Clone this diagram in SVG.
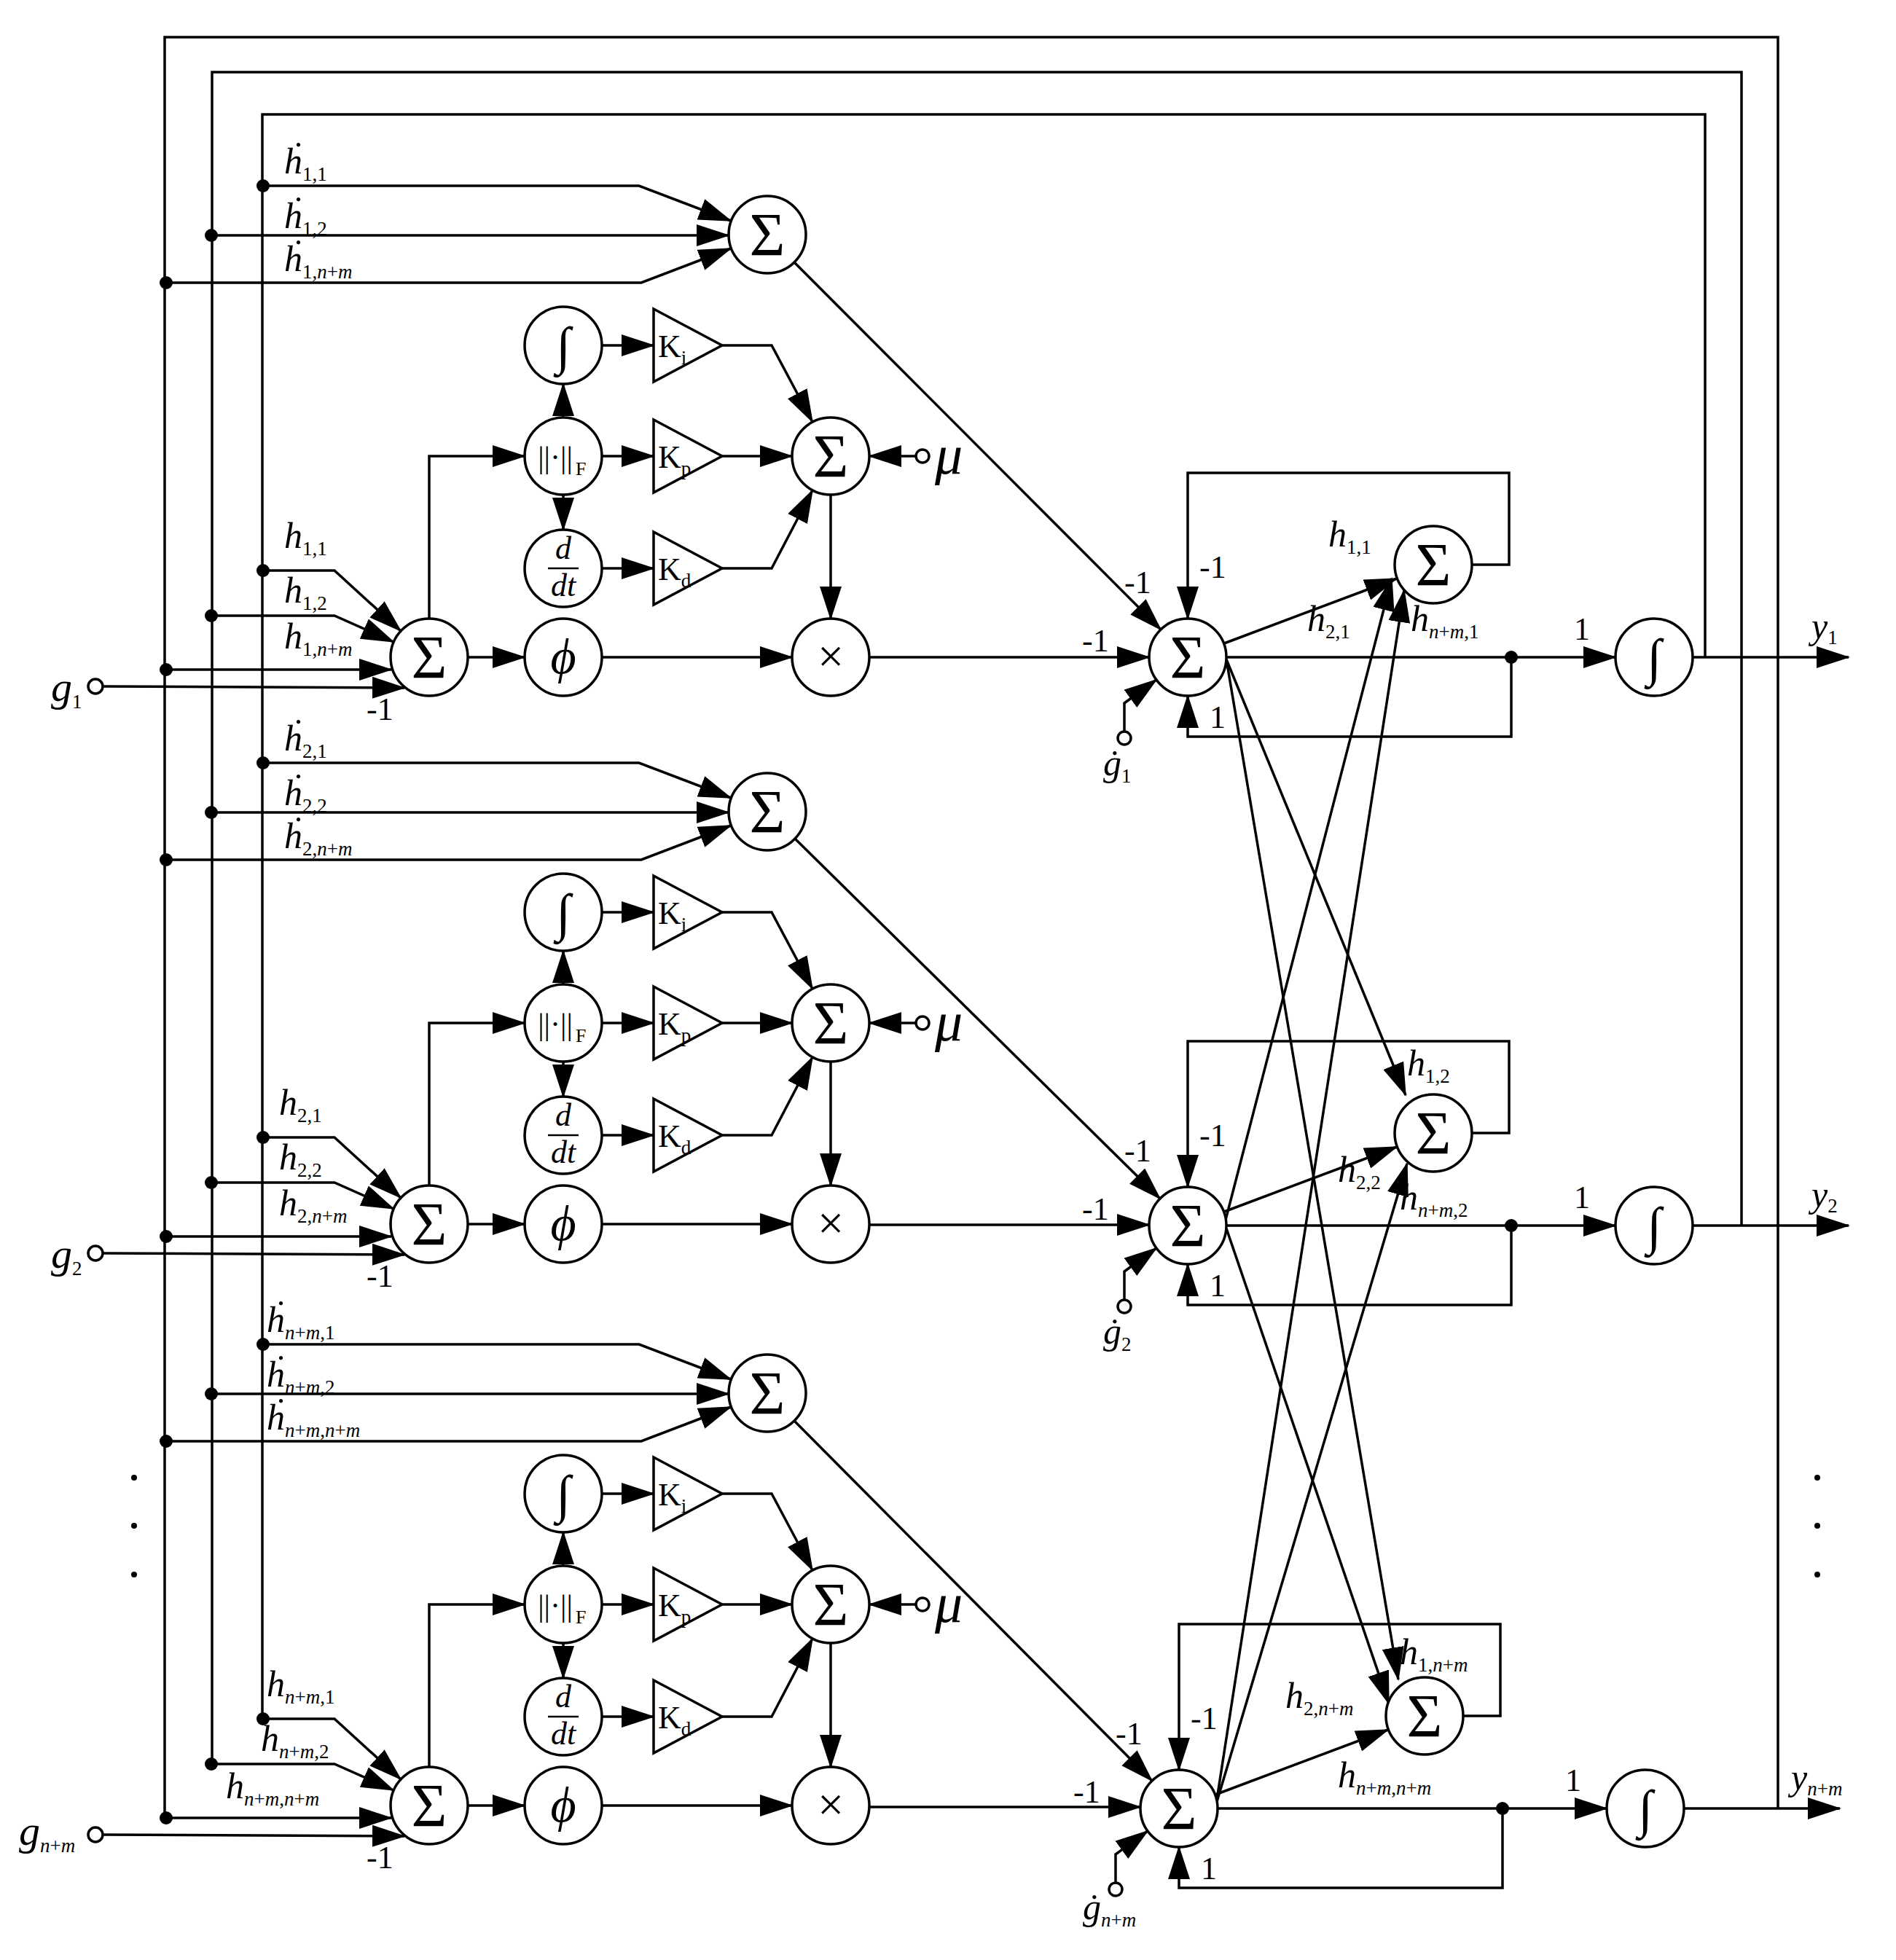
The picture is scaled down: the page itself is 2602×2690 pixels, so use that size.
<svg xmlns="http://www.w3.org/2000/svg" xmlns:xlink="http://www.w3.org/1999/xlink" width="2602" height="2690" viewBox="0 0 2602 2690">
<style>
text{font-family:"Liberation Serif","Times New Roman",serif;fill:#000}
.v{font-size:50px;font-style:italic}
.sb{font-size:27px;font-style:normal}
.i{font-style:italic}
.n{font-size:44px}
.sg{font-size:84px;text-anchor:middle}
.w{fill:none;stroke:#000;stroke-width:3.5}
.a{marker-end:url(#ar)}
.nd{fill:#fff;stroke:#000;stroke-width:3.5}
.dt{fill:#000}
</style>
<defs>
<marker id="ar" markerUnits="userSpaceOnUse" markerWidth="46" markerHeight="30" refX="44" refY="15" orient="auto"><path d="M0,0 L46,15 L0,30z"/></marker>
<g id="topT">
<path class="w a" d="M361,255 H877 L1003,303"/>
<path class="w a" d="M290,323 H1000"/>
<path class="w a" d="M228,388 H880 L1003,341"/>
<circle class="dt" cx="361" cy="255" r="9"/><circle class="dt" cx="290" cy="323" r="9"/><circle class="dt" cx="228" cy="388" r="9"/>
<circle class="nd" cx="1053" cy="322" r="53"/><text class="sg" x="1053" y="351">Σ</text>
</g>
<g id="pidT">
<path class="w a" d="M826,474 H897"/><path class="w a" d="M826,626 H897"/><path class="w a" d="M826,780 H897"/>
<path class="w a" d="M773,573 V527"/><path class="w a" d="M773,679 V727"/>
<path class="w a" d="M991,474 H1059 L1115,579"/><path class="w a" d="M991,780 H1059 L1115,673"/>
<path class="w a" d="M991,626 H1087"/><path class="w a" d="M1257,626 H1193"/>
<path class="w a" d="M1140,679 V849"/><path class="w a" d="M589,849 V626 H720"/>
<path class="w a" d="M642,902 H720"/><path class="w a" d="M826,902 H1087"/>
<path class="w a" d="M361,783 H459 L550,866"/><path class="w a" d="M290,845 H459 L540,881"/>
<path class="w a" d="M228,919 H537"/><path class="w a" d="M141,942 L555,944"/>
<circle class="dt" cx="361" cy="783" r="9"/><circle class="dt" cx="290" cy="845" r="9"/><circle class="dt" cx="228" cy="919" r="9"/>
<circle class="nd" cx="131" cy="942" r="10"/>
<circle class="nd" cx="773" cy="474" r="53"/><text x="773" y="499" style="font-size:72px;font-style:italic;text-anchor:middle">∫</text>
<circle class="nd" cx="773" cy="626" r="53"/><text x="762" y="642" style="font-size:42px;text-anchor:middle">||·||</text><text x="790" y="652" style="font-size:26px">F</text>
<circle class="nd" cx="773" cy="780" r="53"/><text x="773" y="767" style="font-size:44px;font-style:italic;text-anchor:middle">d</text><path class="w" d="M752,780 H794" style="stroke-width:2.5"/><text x="773" y="818" style="font-size:44px;font-style:italic;text-anchor:middle">dt</text>
<path class="nd" d="M897,424 L991,474 L897,524z"/><text class="n" x="903" y="490">K<tspan style="font-size:27px" dy="10">i</tspan></text>
<path class="nd" d="M897,576 L991,626 L897,676z"/><text class="n" x="903" y="642">K<tspan style="font-size:27px" dy="10">p</tspan></text>
<path class="nd" d="M897,730 L991,780 L897,830z"/><text class="n" x="903" y="796">K<tspan style="font-size:27px" dy="10">d</tspan></text>
<circle class="nd" cx="1140" cy="626" r="53"/><text class="sg" x="1140" y="655">Σ</text>
<circle class="nd" cx="1266" cy="626" r="9"/><text x="1283" y="650" style="font-size:76px;font-style:italic">μ</text>
<circle class="nd" cx="1140" cy="902" r="53"/><text x="1140" y="922" style="font-size:64px;text-anchor:middle">×</text>
<circle class="nd" cx="773" cy="902" r="53"/><text x="773" y="924" style="font-size:68px;font-style:italic;text-anchor:middle">ϕ</text>
<circle class="nd" cx="589" cy="902" r="53"/><text class="sg" x="589" y="931">Σ</text>
<text class="n" x="503" y="988">-1</text>
</g>
<g id="rightT">
<path class="w a" d="M2020,775 H2071 V649 H1630 V849"/>
<path class="w a" d="M1680,883 L1917,794"/>
<path class="w a" d="M1683,902 H2217"/>
<path class="w a" d="M2074,902 V1011 H1630 V955"/>
<path class="w a" d="M1543,1004 V965 L1587,933"/>
<path class="w a" d="M2323,902 H2537"/>
<circle class="dt" cx="2074" cy="902" r="9"/>
<circle class="nd" cx="1543" cy="1013" r="9"/>
<circle class="nd" cx="1630" cy="902" r="53"/><text class="sg" x="1630" y="931">Σ</text>
<circle class="nd" cx="1967" cy="775" r="53"/><text class="sg" x="1967" y="804">Σ</text>
<circle class="nd" cx="2270" cy="902" r="53"/><text x="2270" y="927" style="font-size:72px;font-style:italic;text-anchor:middle">∫</text>
<text class="n" x="1646" y="793">-1</text><text class="n" x="1543" y="814">-1</text><text class="n" x="1485" y="894">-1</text>
<text class="n" x="1660" y="999">1</text><text class="n" x="2160" y="878">1</text>
</g>
</defs>
<g id="connectors">
<path class="w" d="M226,2492 V51 H2440 V2482"/>
<path class="w" d="M291,2418 V99 H2390 V1682"/>
<path class="w" d="M360,2357 V157 H2340 V902"/>
<path class="w a" d="M1090,360 L1593,864"/>
<path class="w a" d="M1091,1151 L1592,1645"/>
<path class="w a" d="M1090,1950 L1581,2444"/>
<path class="w a" d="M1193,902 H1577"/>
<path class="w a" d="M1193,1681 H1577"/>
<path class="w a" d="M1193,2480 H1565"/>
<path class="w a" d="M1683,905 L1929,1503"/>
<path class="w a" d="M1683,905 L1919,2305"/>
<path class="w a" d="M1681,1678 L1910,794"/>
<path class="w a" d="M1683,1686 L1906,2338"/>
<path class="w a" d="M1669,2476 L1927,810"/>
<path class="w a" d="M1669,2476 L1931,1597"/>
</g>
<g id="block1"><use xlink:href="#rightT"/><use xlink:href="#topT"/><use xlink:href="#pidT"/></g>
<g id="block2"><use xlink:href="#rightT" transform="translate(0,780)"/><use xlink:href="#topT" transform="translate(0,792)"/><use xlink:href="#pidT" transform="translate(0,778)"/></g>
<g id="block3"><use xlink:href="#rightT" transform="translate(-12,1580)"/><use xlink:href="#topT" transform="translate(0,1590)"/><use xlink:href="#pidT" transform="translate(0,1576)"/></g>
<g id="labels">
<text class="v" x="390" y="238">ḣ<tspan class="sb" dy="10">1,1</tspan></text>
<text class="v" x="390" y="313">ḣ<tspan class="sb" dy="10">1,2</tspan></text>
<text class="v" x="390" y="372">ḣ<tspan class="sb" dy="10">1,<tspan class="i">n</tspan>+<tspan class="i">m</tspan></tspan></text>
<text class="v" x="390" y="752">h<tspan class="sb" dy="10">1,1</tspan></text>
<text class="v" x="390" y="827">h<tspan class="sb" dy="10">1,2</tspan></text>
<text class="v" x="390" y="890">h<tspan class="sb" dy="10">1,<tspan class="i">n</tspan>+<tspan class="i">m</tspan></tspan></text>
<text class="v" x="70" y="962" style="font-size:58px">g<tspan class="sb" dy="10">1</tspan></text>
<text class="v" x="390" y="1030">ḣ<tspan class="sb" dy="10">2,1</tspan></text>
<text class="v" x="390" y="1105">ḣ<tspan class="sb" dy="10">2,2</tspan></text>
<text class="v" x="390" y="1164">ḣ<tspan class="sb" dy="10">2,<tspan class="i">n</tspan>+<tspan class="i">m</tspan></tspan></text>
<text class="v" x="383" y="1530">h<tspan class="sb" dy="10">2,1</tspan></text>
<text class="v" x="383" y="1605">h<tspan class="sb" dy="10">2,2</tspan></text>
<text class="v" x="383" y="1668">h<tspan class="sb" dy="10">2,<tspan class="i">n</tspan>+<tspan class="i">m</tspan></tspan></text>
<text class="v" x="70" y="1740" style="font-size:58px">g<tspan class="sb" dy="10">2</tspan></text>
<text class="v" x="366" y="1828">ḣ<tspan class="sb" dy="10"><tspan class="i">n</tspan>+<tspan class="i">m</tspan>,1</tspan></text>
<text class="v" x="366" y="1903">ḣ<tspan class="sb" dy="10"><tspan class="i">n</tspan>+<tspan class="i">m</tspan>,2</tspan></text>
<text class="v" x="366" y="1962">ḣ<tspan class="sb" dy="10"><tspan class="i">n</tspan>+<tspan class="i">m</tspan>,<tspan class="i">n</tspan>+<tspan class="i">m</tspan></tspan></text>
<text class="v" x="366" y="2328">h<tspan class="sb" dy="10"><tspan class="i">n</tspan>+<tspan class="i">m</tspan>,1</tspan></text>
<text class="v" x="358" y="2403">h<tspan class="sb" dy="10"><tspan class="i">n</tspan>+<tspan class="i">m</tspan>,2</tspan></text>
<text class="v" x="310" y="2468">h<tspan class="sb" dy="10"><tspan class="i">n</tspan>+<tspan class="i">m</tspan>,<tspan class="i">n</tspan>+<tspan class="i">m</tspan></tspan></text>
<text class="v" x="26" y="2532" style="font-size:58px">g<tspan class="sb" dy="10"><tspan class="i">n</tspan>+<tspan class="i">m</tspan></tspan></text>
<circle class="dt" cx="184" cy="2028" r="4"/><circle class="dt" cx="184" cy="2094" r="4"/><circle class="dt" cx="184" cy="2161" r="4"/>
<circle class="dt" cx="2494" cy="2028" r="4"/><circle class="dt" cx="2494" cy="2094" r="4"/><circle class="dt" cx="2494" cy="2161" r="4"/>
<text class="v" x="1823" y="750">h<tspan class="sb" dy="10">1,1</tspan></text>
<text class="v" x="1794" y="866">h<tspan class="sb" dy="10">2,1</tspan></text>
<text class="v" x="1936" y="866">h<tspan class="sb" dy="10"><tspan class="i">n</tspan>+<tspan class="i">m</tspan>,1</tspan></text>
<text class="v" x="1931" y="1476">h<tspan class="sb" dy="10">1,2</tspan></text>
<text class="v" x="1836" y="1622">h<tspan class="sb" dy="10">2,2</tspan></text>
<text class="v" x="1921" y="1660">h<tspan class="sb" dy="10"><tspan class="i">n</tspan>+<tspan class="i">m</tspan>,2</tspan></text>
<text class="v" x="1921" y="2284">h<tspan class="sb" dy="10">1,<tspan class="i">n</tspan>+<tspan class="i">m</tspan></tspan></text>
<text class="v" x="1764" y="2344">h<tspan class="sb" dy="10">2,<tspan class="i">n</tspan>+<tspan class="i">m</tspan></tspan></text>
<text class="v" x="1836" y="2453">h<tspan class="sb" dy="10"><tspan class="i">n</tspan>+<tspan class="i">m</tspan>,<tspan class="i">n</tspan>+<tspan class="i">m</tspan></tspan></text>
<text class="v" x="1514" y="1064">ġ<tspan class="sb" dy="10">1</tspan></text>
<text class="v" x="1514" y="1844">ġ<tspan class="sb" dy="10">2</tspan></text>
<text class="v" x="1486" y="2634">ġ<tspan class="sb" dy="10"><tspan class="i">n</tspan>+<tspan class="i">m</tspan></tspan></text>
<text class="v" x="2486" y="876">y<tspan class="sb" dy="8">1</tspan></text>
<text class="v" x="2486" y="1656">y<tspan class="sb" dy="8">2</tspan></text>
<text class="v" x="2458" y="2456">y<tspan class="sb" dy="8"><tspan class="i">n</tspan>+<tspan class="i">m</tspan></tspan></text>
</g>
</svg>
